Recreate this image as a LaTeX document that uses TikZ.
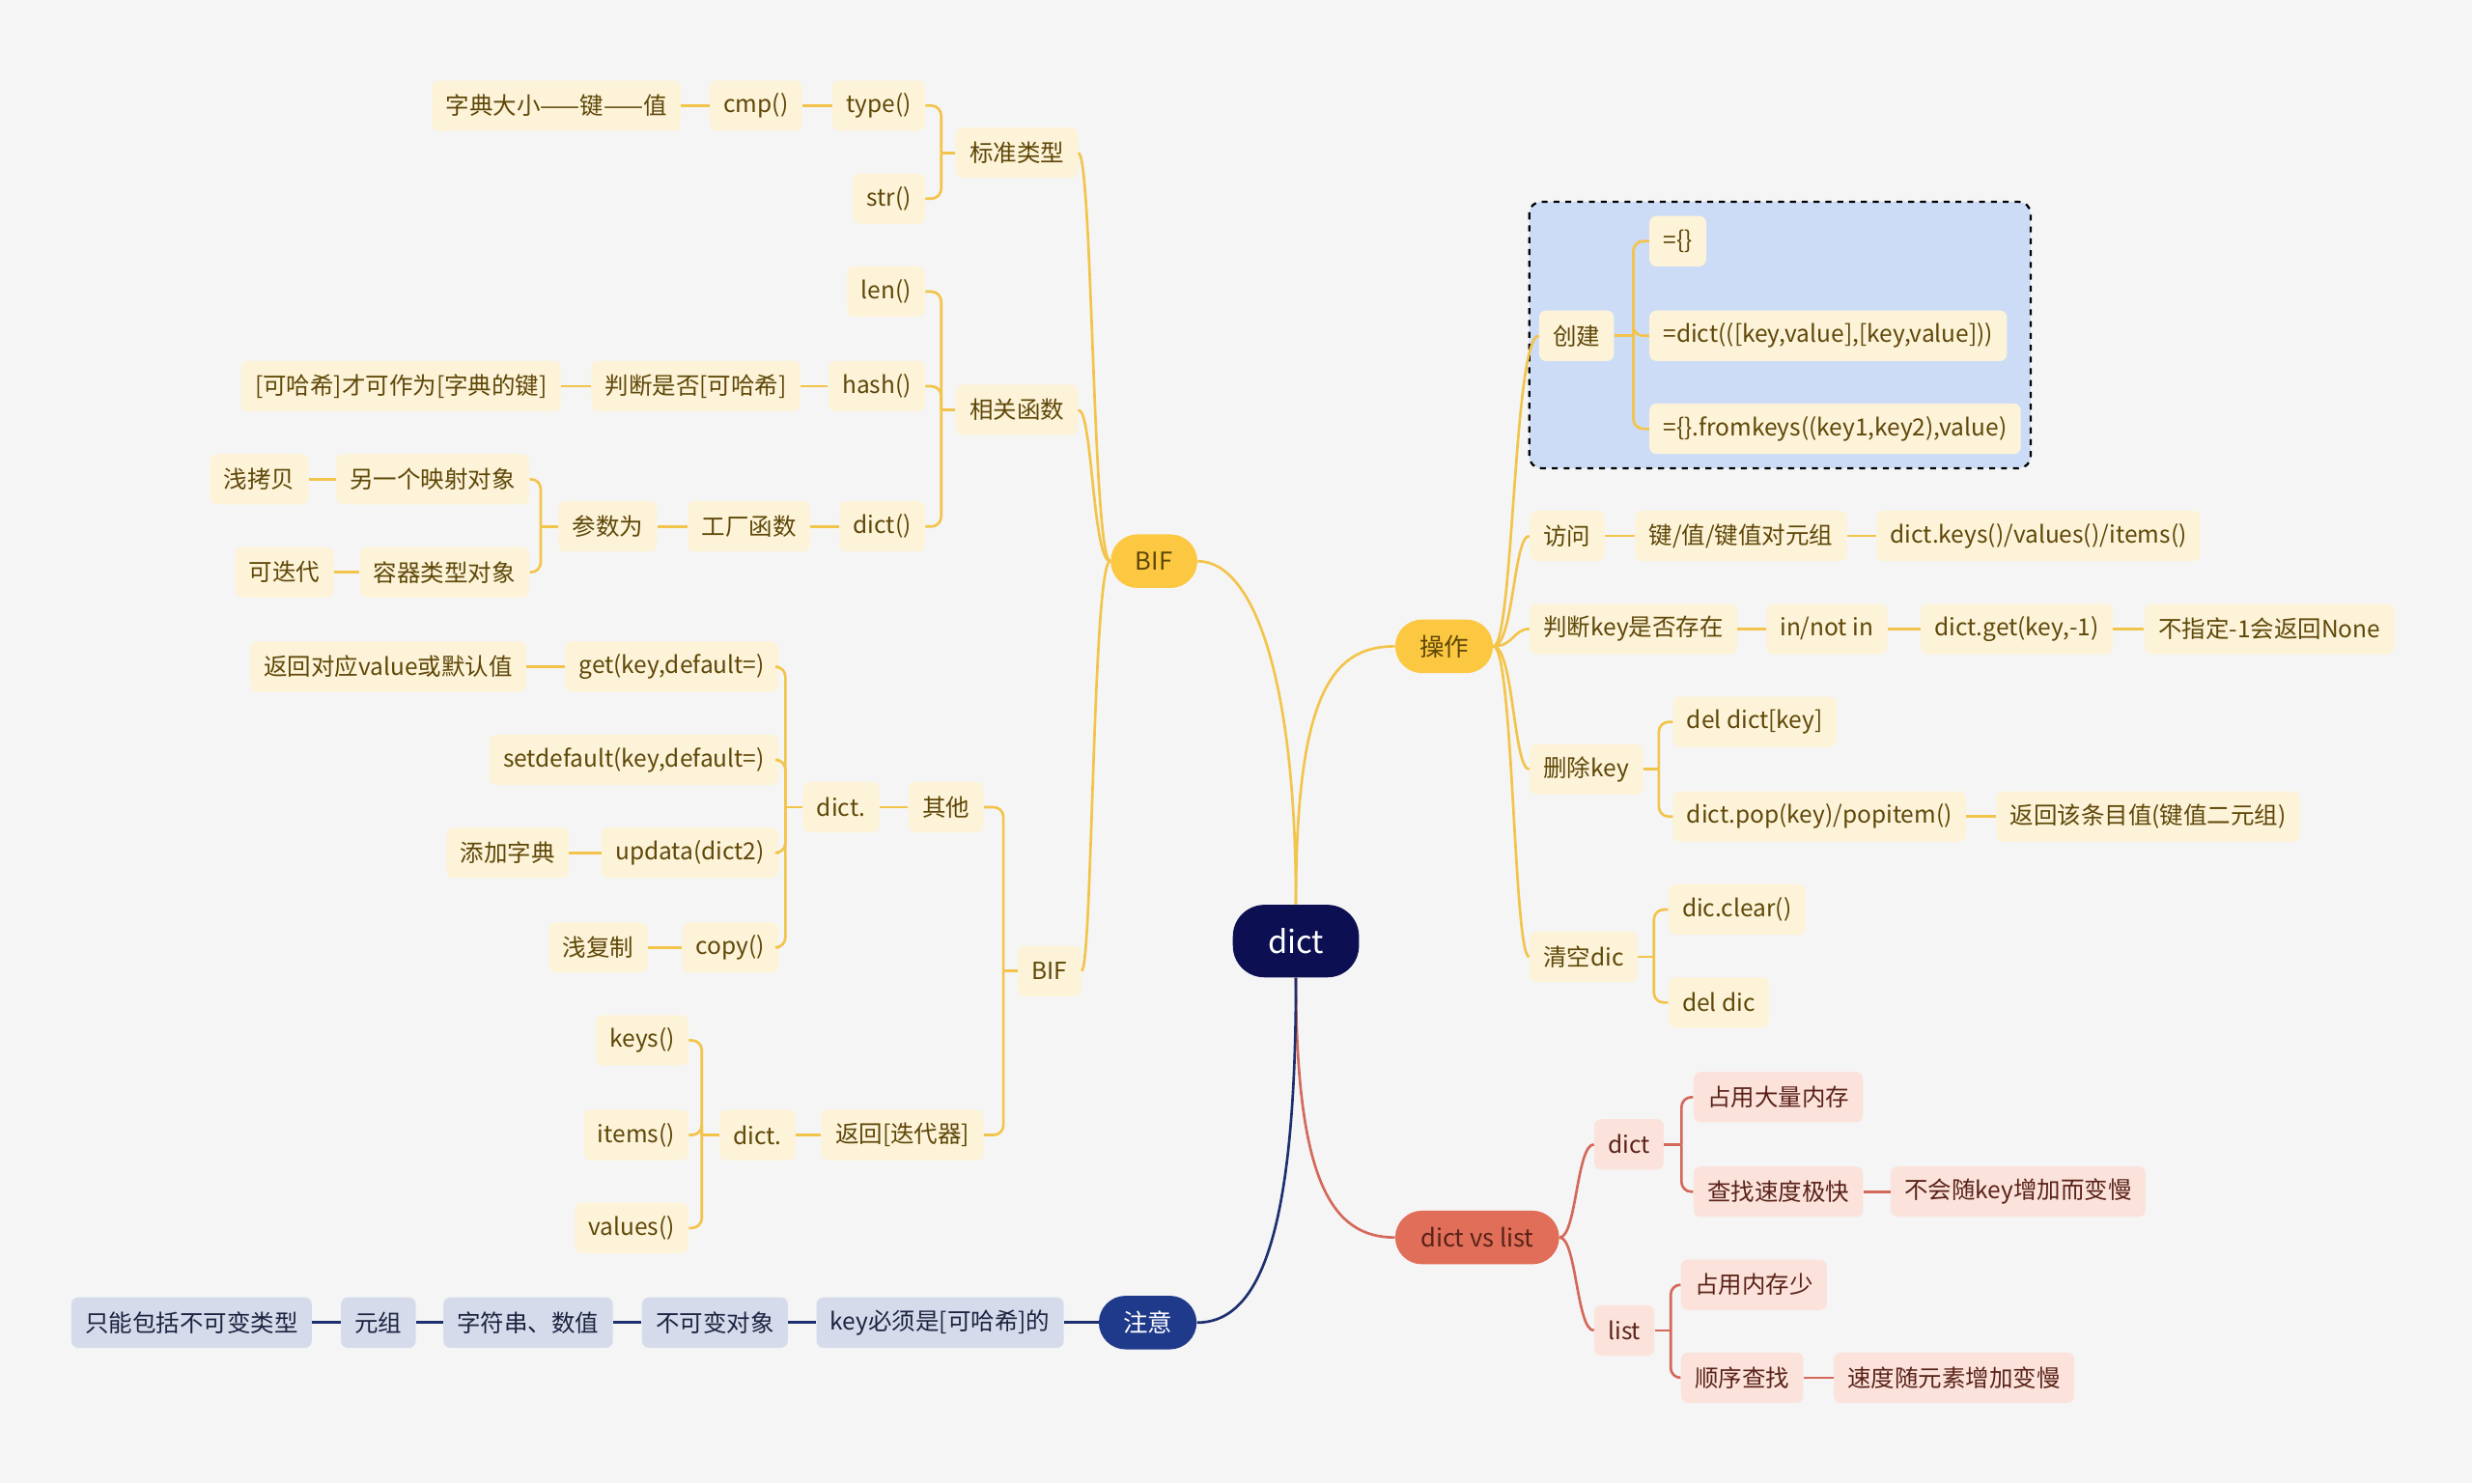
\documentclass[tikz,border=0pt]{standalone}
\usepackage{fontspec}
\setmainfont{Noto Sans CJK SC}
\definecolor{bg}{HTML}{F5F5F5}
\definecolor{cream}{HTML}{FDF3D8}
\definecolor{yline}{HTML}{F3C44A}
\definecolor{ytext}{HTML}{5E4708}
\definecolor{ybig}{HTML}{FCC842}
\definecolor{rootc}{HTML}{0C1052}
\definecolor{pinkf}{HTML}{FBE3DC}
\definecolor{pline}{HTML}{D4685A}
\definecolor{ptext}{HTML}{5A2218}
\definecolor{pbig}{HTML}{E06E58}
\definecolor{nline}{HTML}{1D2F6E}
\definecolor{nfill}{HTML}{D5DBEA}
\definecolor{ntext}{HTML}{1D2340}
\definecolor{nbig}{HTML}{1F3A8A}
\definecolor{boxblue}{HTML}{CDDCF6}
\newcommand\mylbr[4]{\draw[#1] (#2.west) -- ++(-#3,0); \draw[#1,rounded corners=5pt] (#2.west) ++(-#3,0) |- (#4.east);}
\newcommand\myrbr[4]{\draw[#1] (#2.east) -- ++(#3,0); \draw[#1,rounded corners=5pt] (#2.east) ++(#3,0) |- (#4.west);}
\begin{document}
\begin{tikzpicture}[x=0.8pt,y=-0.8pt,
  base/.style={font=\fontsize{12pt}{14pt}\selectfont, minimum height=25.6pt, inner xsep=7pt, inner ysep=2pt, rounded corners=3.5pt},
  yn/.style={base, fill=cream, text=ytext},
  pn/.style={base, fill=pinkf, text=ptext},
  nn/.style={base, fill=nfill, text=ntext},
  big/.style={font=\fontsize{12.5pt}{14pt}\selectfont, minimum height=27.2pt, rounded corners=13.6pt, inner xsep=8pt},
  yl/.style={draw=yline, line width=1.3pt},
  pl/.style={draw=pline, line width=1.3pt},
  nl/.style={draw=nline, line width=1.3pt}]
\fill[bg] (0,0) rectangle (1568,941);
\useasboundingbox (0,0) rectangle (1568,941);

% dashed box
\draw[fill=boxblue, dashed, line width=1.1pt, rounded corners=6pt] (970,128) rectangle (1288,297);

% root and level 1
\node[fill=rootc, text=white, font=\fontsize{16pt}{18pt}\selectfont, minimum width=64pt, minimum height=36.8pt, rounded corners=16pt] (root) at (822,597) {dict};
\node[big, fill=ybig, text=ytext, minimum width=44pt] (bif) at (732,356) {BIF};
\node[big, fill=ybig, text=ytext, minimum width=49.6pt] (op) at (916,410) {操作};
\node[big, fill=pbig, text=ptext, minimum width=83.2pt] (dvl) at (937,785) {dict vs list};
\node[big, fill=nbig, text=white, minimum width=49.6pt] (zy) at (728,839) {注意};

% BIF left subtree
\node[yn, anchor=east] (bzlx) at (684,97) {标准类型};
\node[yn, anchor=east] (xghs) at (684,260) {相关函数};
\node[yn, anchor=east] (bif2) at (686,616) {BIF};
\node[yn, anchor=east] (type) at (587,67) {type()};
\node[yn, anchor=east] (str) at (587,126) {str()};
\node[yn, anchor=east] (cmp) at (509,67) {cmp()};
\node[yn, anchor=east] (zddx) at (432,67) {字典大小——键——值};
\node[yn, anchor=east] (len) at (587,185) {len()};
\node[yn, anchor=east] (hash) at (587,245) {hash()};
\node[yn, anchor=east] (pdsf) at (508,245) {判断是否[可哈希]};
\node[yn, anchor=east] (khx) at (356,245) {[可哈希]才可作为[字典的键]};
\node[yn, anchor=east] (dictf) at (587,334) {dict()};
\node[yn, anchor=east] (gchs) at (514,334) {工厂函数};
\node[yn, anchor=east] (csw) at (417,334) {参数为};
\node[yn, anchor=east] (lyg) at (336,304) {另一个映射对象};
\node[yn, anchor=east] (qkb) at (196,304) {浅拷贝};
\node[yn, anchor=east] (rqlx) at (336,363) {容器类型对象};
\node[yn, anchor=east] (kdd) at (212,363) {可迭代};
\node[yn, anchor=east] (qt) at (624,512) {其他};
\node[yn, anchor=east] (dda) at (558,512) {dict.};
\node[yn, anchor=east] (get) at (494,423) {get(key,default=)};
\node[yn, anchor=east] (fhdy) at (334,423) {返回对应value或默认值};
\node[yn, anchor=east] (setd) at (494,482) {setdefault(key,default=)};
\node[yn, anchor=east] (upd) at (494,541) {updata(dict2)};
\node[yn, anchor=east] (tjzd) at (361,541) {添加字典};
\node[yn, anchor=east] (copy) at (494,601) {copy()};
\node[yn, anchor=east] (qfz) at (411,601) {浅复制};
\node[yn, anchor=east] (fhddq) at (624,720) {返回[迭代器]};
\node[yn, anchor=east] (ddb) at (505,720) {dict.};
\node[yn, anchor=east] (keys) at (437,660) {keys()};
\node[yn, anchor=east] (items) at (437,720) {items()};
\node[yn, anchor=east] (values) at (437,779) {values()};

% 操作 subtree
\node[yn, anchor=west] (cj) at (976,213) {创建};
\node[yn, anchor=west] (c1) at (1046,153) {=\{\}};
\node[yn, anchor=west] (c2) at (1046,213) {=dict(([key,value],[key,value]))};
\node[yn, anchor=west] (c3) at (1046,272) {=\{\}.fromkeys((key1,key2),value)};
\node[yn, anchor=west] (fw) at (970,340) {访问};
\node[yn, anchor=west] (jz) at (1037,340) {键/值/键值对元组};
\node[yn, anchor=west] (dk) at (1190,340) {dict.keys()/values()/items()};
\node[yn, anchor=west] (pdk) at (970,399) {判断key是否存在};
\node[yn, anchor=west] (inn) at (1120,399) {in/not in};
\node[yn, anchor=west] (dget) at (1218,399) {dict.get(key,-1)};
\node[yn, anchor=west] (bzd) at (1360,399) {不指定-1会返回None};
\node[yn, anchor=west] (sck) at (970,488) {删除key};
\node[yn, anchor=west] (deld) at (1061,458) {del dict[key]};
\node[yn, anchor=west] (pop) at (1061,518) {dict.pop(key)/popitem()};
\node[yn, anchor=west] (fhgt) at (1266,518) {返回该条目值(键值二元组)};
\node[yn, anchor=west] (qk) at (970,607) {清空dic};
\node[yn, anchor=west] (clr) at (1058,577) {dic.clear()};
\node[yn, anchor=west] (deldic) at (1058,636) {del dic};

% dict vs list subtree
\node[pn, anchor=west] (pd) at (1011,726) {dict};
\node[pn, anchor=west] (zydl) at (1074,696) {占用大量内存};
\node[pn, anchor=west] (czsd) at (1074,756) {查找速度极快};
\node[pn, anchor=west] (bhs) at (1199,756) {不会随key增加而变慢};
\node[pn, anchor=west] (pl) at (1011,844) {list};
\node[pn, anchor=west] (zync) at (1066,815) {占用内存少};
\node[pn, anchor=west] (sxcz) at (1066,874) {顺序查找};
\node[pn, anchor=west] (sdsy) at (1163,874) {速度随元素增加变慢};

% 注意 chain
\node[nn, anchor=east] (kbx) at (675,839) {key必须是[可哈希]的};
\node[nn, anchor=east] (bkb) at (500,839) {不可变对象};
\node[nn, anchor=east] (zfc) at (389,839) {字符串、数值};
\node[nn, anchor=east] (yz) at (264,839) {元组};
\node[nn, anchor=east] (znbk) at (198,839) {只能包括不可变类型};

% root connectors
\draw[yl] (root.north) .. controls (822,430) and (795,356) .. (bif.east);
\draw[yl] (root.north) .. controls (822,440) and (845,410) .. (op.west);
\draw[pl] (root.south) .. controls (822,750) and (845,785) .. (dvl.west);
\draw[nl] (root.south) .. controls (822,780) and (800,839) .. (zy.east);

% BIF level 2 curves
\draw[yl] (bif.west) .. controls (693,356) and (693,97) .. (bzlx.east);
\draw[yl] (bif.west) .. controls (693,356) and (693,260) .. (xghs.east);
\draw[yl] (bif.west) .. controls (693,356) and (693,616) .. (bif2.east);

% BIF brackets and chains
\mylbr{yl}{bzlx}{9}{type}
\mylbr{yl}{bzlx}{9}{str}
\draw[yl] (type.west) -- (cmp.east);
\draw[yl] (cmp.west) -- (zddx.east);
\mylbr{yl}{xghs}{9}{len}
\mylbr{yl}{xghs}{9}{hash}
\mylbr{yl}{xghs}{9}{dictf}
\draw[yl] (hash.west) -- (pdsf.east);
\draw[yl] (pdsf.west) -- (khx.east);
\draw[yl] (dictf.west) -- (gchs.east);
\draw[yl] (gchs.west) -- (csw.east);
\mylbr{yl}{csw}{11}{lyg}
\mylbr{yl}{csw}{11}{rqlx}
\draw[yl] (lyg.west) -- (qkb.east);
\draw[yl] (rqlx.west) -- (kdd.east);
\mylbr{yl}{bif2}{9}{qt}
\mylbr{yl}{bif2}{9}{fhddq}
\draw[yl] (qt.west) -- (dda.east);
\mylbr{yl}{dda}{11}{get}
\mylbr{yl}{dda}{11}{setd}
\mylbr{yl}{dda}{11}{upd}
\mylbr{yl}{dda}{11}{copy}
\draw[yl] (get.west) -- (fhdy.east);
\draw[yl] (upd.west) -- (tjzd.east);
\draw[yl] (copy.west) -- (qfz.east);
\draw[yl] (fhddq.west) -- (ddb.east);
\mylbr{yl}{ddb}{11}{keys}
\mylbr{yl}{ddb}{11}{items}
\mylbr{yl}{ddb}{11}{values}

% 操作 curves
\draw[yl] (op.east) .. controls (960,410) and (960,213) .. (cj.west);
\draw[yl] (op.east) .. controls (960,410) and (960,340) .. (fw.west);
\draw[yl] (op.east) .. controls (960,410) and (960,399) .. (pdk.west);
\draw[yl] (op.east) .. controls (960,410) and (960,488) .. (sck.west);
\draw[yl] (op.east) .. controls (960,410) and (960,607) .. (qk.west);

\myrbr{yl}{cj}{12}{c1}
\myrbr{yl}{cj}{12}{c2}
\myrbr{yl}{cj}{12}{c3}
\draw[yl] (fw.east) -- (jz.west);
\draw[yl] (jz.east) -- (dk.west);
\draw[yl] (pdk.east) -- (inn.west);
\draw[yl] (inn.east) -- (dget.west);
\draw[yl] (dget.east) -- (bzd.west);
\myrbr{yl}{sck}{10}{deld}
\myrbr{yl}{sck}{10}{pop}
\draw[yl] (pop.east) -- (fhgt.west);
\myrbr{yl}{qk}{10}{clr}
\myrbr{yl}{qk}{10}{deldic}

% dict vs list
\draw[pl] (dvl.east) .. controls (1000,785) and (1000,726) .. (pd.west);
\draw[pl] (dvl.east) .. controls (1000,785) and (1000,844) .. (pl.west);
\myrbr{pl}{pd}{11}{zydl}
\myrbr{pl}{pd}{11}{czsd}
\draw[pl] (czsd.east) -- (bhs.west);
\myrbr{pl}{pl}{10}{zync}
\myrbr{pl}{pl}{10}{sxcz}
\draw[pl] (sxcz.east) -- (sdsy.west);

% 注意 chain
\draw[nl] (zy.west) -- (kbx.east);
\draw[nl] (kbx.west) -- (bkb.east);
\draw[nl] (bkb.west) -- (zfc.east);
\draw[nl] (zfc.west) -- (yz.east);
\draw[nl] (yz.west) -- (znbk.east);
\end{tikzpicture}
\end{document}
